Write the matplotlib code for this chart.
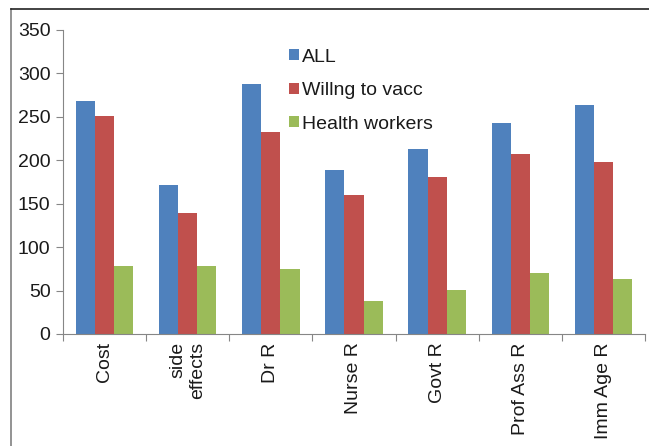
import matplotlib.pyplot as plt
import numpy as np

plt.rcParams['font.family'] = ['Liberation Sans', 'DejaVu Sans']

categories = ["Cost", "side\neffects", "Dr R", "Nurse R", "Govt R", "Prof Ass R", "Imm Age R"]
all_vals = [268, 171, 288, 189, 213, 243, 264]
willing = [251, 139, 232, 160, 181, 207, 198]
health = [78, 78, 75, 38, 51, 70, 63]
series_names = ["ALL", "Willng to vacc", "Health workers"]
colors = ["#4F81BD", "#C0504D", "#9BBB59"]

fig = plt.figure(figsize=(6.49, 4.46), dpi=100)
ax = fig.add_axes([63/649, (446-334)/446, (645-63)/649, (334-30)/446])

x = np.arange(len(categories))
w = 0.23
for i, (vals, name, col) in enumerate(zip([all_vals, willing, health], series_names, colors)):
    ax.bar(x + (i - 1) * w, vals, width=w, color=col, label=name)

ax.set_xlim(-0.5, len(categories) - 0.5)
ax.set_ylim(0, 350)
ax.set_yticks(range(0, 351, 50))
ax.set_xticks(np.arange(-0.5, len(categories), 1.0))
ax.set_xticklabels([])
ax.set_xticks(x, minor=True)
ax.set_xticklabels(categories, minor=True, rotation=90, va='top', ha='center',
                   fontsize=14, multialignment='right', color='#1a1a1a')
ax.tick_params(axis='x', which='minor', length=0, pad=6)
ax.tick_params(axis='x', which='major', length=5, color='#868686', direction='out')
ax.tick_params(axis='y', length=5, color='#868686', labelsize=14, pad=4, labelcolor='#1a1a1a')

for s in ['top', 'right']:
    ax.spines[s].set_visible(False)
for s in ['left', 'bottom']:
    ax.spines[s].set_color('#868686')

leg = ax.legend(loc='upper left', bbox_to_anchor=(0.388, 0.938), frameon=False, fontsize=14,
                handlelength=0.5, handleheight=0.5, handletextpad=0.2, labelspacing=0.84,
                borderpad=0, borderaxespad=0)
for t in leg.get_texts():
    t.set_color('#1a1a1a')

# outer chart border
fig.add_artist(plt.Line2D([11/649, 11/649], [0, 1 - 9/446], color='#808080', lw=1.2))
fig.add_artist(plt.Line2D([11/649, 1], [1 - 9/446, 1 - 9/446], color='#222222', lw=1.2))

fig.savefig("out.png", dpi=100)
